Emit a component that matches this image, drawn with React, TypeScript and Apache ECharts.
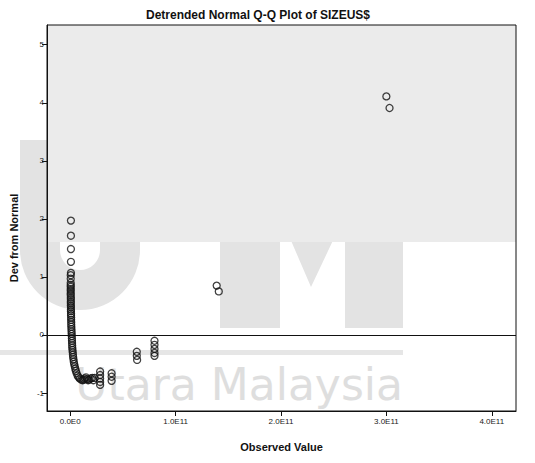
import React, { useEffect, useRef } from "react";
import * as echarts from "echarts";

// Observed values, in units of 1E11
const observedE11: number[] = [
  0.007, 0.007, 0.007, 0.007, 0.007,
  0.005, 0.005, 0.005, 0.005, 0.005, 0.005, 0.005, 0.005, 0.005,
  0.006, 0.006, 0.006, 0.006, 0.006, 0.007, 0.007, 0.007, 0.008, 0.008,
  0.009, 0.009, 0.010, 0.010, 0.011, 0.012, 0.013, 0.014, 0.015, 0.016,
  0.017, 0.018, 0.019, 0.020, 0.022, 0.024, 0.026, 0.028, 0.031, 0.034,
  0.038, 0.043, 0.048, 0.054, 0.061, 0.070, 0.080, 0.092, 0.105, 0.118,
  0.130, 0.140, 0.150, 0.160, 0.170, 0.180, 0.195, 0.210, 0.220, 0.232,
  0.284, 0.284, 0.284, 0.284, 0.284,
  0.393, 0.393, 0.393,
  0.632, 0.632, 0.635,
  0.80, 0.80, 0.80, 0.80, 0.80,
  1.39, 1.41,
  3.0, 3.03,
];

// Deviation from normal
const devFromNormal: number[] = [
  1.97, 1.71, 1.48, 1.26, 1.07,
  1.03, 0.97, 0.9, 0.86, 0.83, 0.79, 0.76, 0.72, 0.69,
  0.65, 0.62, 0.58, 0.55, 0.51, 0.48, 0.44, 0.41, 0.37, 0.34,
  0.3, 0.26, 0.22, 0.18, 0.14, 0.1, 0.06, 0.02, -0.02, -0.06,
  -0.1, -0.14, -0.18, -0.22, -0.26, -0.3, -0.34, -0.38, -0.42, -0.46,
  -0.5, -0.54, -0.58, -0.62, -0.66, -0.7, -0.73, -0.75, -0.77, -0.78,
  -0.77, -0.75, -0.73, -0.76, -0.78, -0.77, -0.75, -0.74, -0.78, -0.74,
  -0.63, -0.69, -0.75, -0.81, -0.86,
  -0.66, -0.72, -0.79,
  -0.29, -0.36, -0.43,
  -0.1, -0.17, -0.24, -0.31, -0.36,
  0.85, 0.75,
  4.11, 3.91,
];

const xTicks: number[] = [0, 1e11, 2e11, 3e11, 4e11];
const yTicks: number[] = [-1, 0, 1, 2, 3, 4, 5];

const FONT = "'Liberation Sans', Arial, sans-serif";

function fmtX(v: number): string {
  if (v === 0) return "0.0E0";
  return (v / 1e11).toFixed(1) + "E11";
}

export default function App() {
  const ref = useRef<HTMLDivElement>(null);
  useEffect(() => {
    if (!ref.current) return;
    const chart = echarts.init(ref.current, undefined, { renderer: "svg" });
    const data = observedE11.map((v, i) => [v * 1e11, devFromNormal[i]]);
    chart.setOption({
      animation: false,
      backgroundColor: "#ffffff",
      title: {
        text: "Detrended Normal Q-Q Plot of SIZEUS$",
        left: 253,
        top: 4,
        textAlign: "center",
        textStyle: { fontFamily: FONT, fontSize: 12, fontWeight: "bold", color: "#111" },
      },
      grid: {
        left: 47,
        top: 25,
        right: 19,
        bottom: 52,
        show: true,
        borderColor: "#111",
        borderWidth: 1,
        backgroundColor: "transparent",
        containLabel: false,
      },
      graphic: [
        // watermark letters (scan artefact)
        { type: "rect", z: -10, shape: { x: 20, y: 140, width: 40, height: 110 }, style: { fill: "#e3e3e3" } },
        { type: "rect", z: -10, shape: { x: 100, y: 140, width: 40, height: 110 }, style: { fill: "#e3e3e3" } },
        { type: "sector", z: -10, shape: { cx: 80, cy: 250, r: 60, r0: 20, startAngle: 0, endAngle: Math.PI, clockwise: true }, style: { fill: "#e3e3e3" } },
        {
          type: "polygon",
          z: -10,
          shape: {
            points: [
              [220, 328], [220, 140], [280, 140], [311, 200], [345, 140], [403, 140],
              [403, 328], [345, 328], [345, 215], [311, 287], [280, 215], [280, 328],
            ],
          },
          style: { fill: "#e3e3e3" },
        },
        { type: "rect", z: -9, shape: { x: 47, y: 25, width: 469, height: 217 }, style: { fill: "#ebebeb" } },
        { type: "rect", z: -9, shape: { x: 0, y: 350, width: 403, height: 5 }, style: { fill: "#e6e6e6" } },
        {
          type: "text",
          z: -9,
          x: 403,
          y: 384,
          style: {
            text: "Utara Malaysia",
            fontFamily: "'DejaVu Sans', sans-serif",
            fontSize: 44,
            fill: "#dedede",
            align: "right",
            verticalAlign: "middle",
          },
        },
        {
          type: "text",
          x: 14,
          y: 238,
          rotation: Math.PI / 2,
          style: {
            text: "Dev from Normal",
            fontFamily: FONT,
            fontSize: 11,
            fontWeight: "bold",
            fill: "#111",
            align: "center",
            verticalAlign: "middle",
          },
        },
      ],
      xAxis: {
        type: "value",
        min: -0.22e11,
        max: 4.23e11,
        name: "Observed Value",
        nameLocation: "middle",
        nameGap: 30,
        nameTextStyle: { fontFamily: FONT, fontSize: 11, fontWeight: "bold", color: "#111" },
        splitLine: { show: false },
        axisLine: { show: true, onZero: false, lineStyle: { color: "#111", width: 1 } },
        axisTick: { show: true, inside: false, length: 5, customValues: xTicks, lineStyle: { color: "#111" } },
        axisLabel: {
          show: true,
          customValues: xTicks,
          formatter: fmtX,
          fontFamily: FONT,
          fontSize: 8,
          color: "#222",
          margin: 6,
          showMinLabel: true,
          showMaxLabel: true,
        },
      },
      yAxis: {
        type: "value",
        min: -1.31,
        max: 5.34,
        splitLine: { show: false },
        axisLine: { show: true, onZero: false, lineStyle: { color: "#111", width: 1 } },
        axisTick: { show: true, inside: false, length: 5, customValues: yTicks, lineStyle: { color: "#111" } },
        axisLabel: {
          show: true,
          customValues: yTicks,
          fontFamily: FONT,
          fontSize: 8,
          color: "#222",
          margin: 3,
        },
      },
      series: [
        {
          type: "scatter",
          z: 5,
          data,
          symbol: "circle",
          symbolSize: 7,
          itemStyle: { color: "rgba(0,0,0,0)", borderColor: "#111", borderWidth: 1.3 },
          markLine: {
            silent: true,
            symbol: ["none", "none"],
            label: { show: false },
            lineStyle: { color: "#111", width: 1, type: "solid" },
            data: [{ yAxis: 0 }],
          },
        },
      ],
    });
    return () => chart.dispose();
  }, []);
  return (
    <div
      ref={ref}
      style={{ position: "fixed", left: 0, top: 0, width: 535, height: 463, background: "#fff" }}
    />
  );
}
